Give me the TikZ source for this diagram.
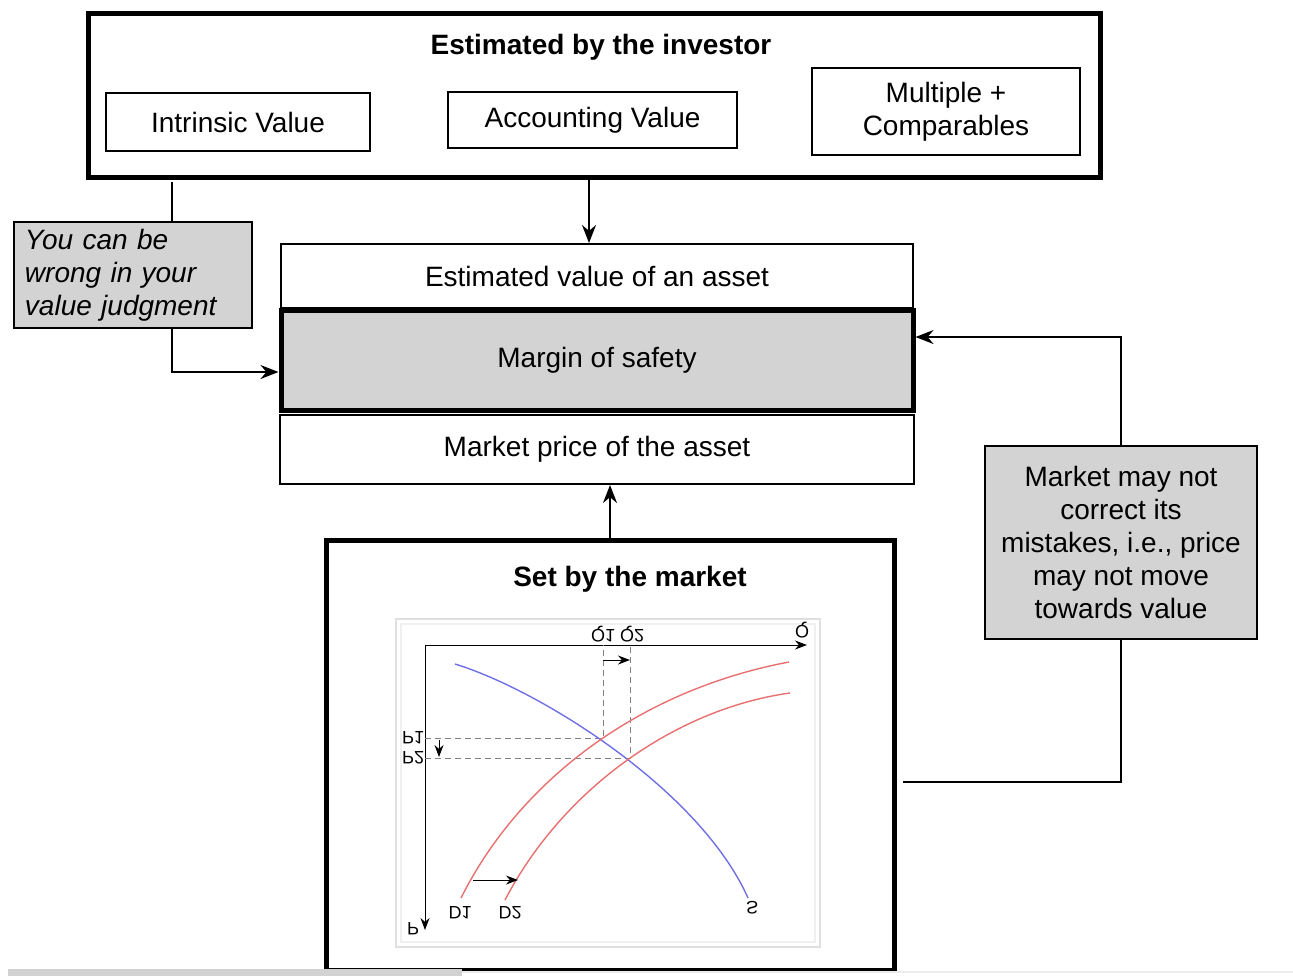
\documentclass[tikz,border=0pt]{standalone}
\usepackage{fontspec}
\setmainfont{Liberation Sans}
\usetikzlibrary{arrows.meta}
\definecolor{boxgray}{RGB}{211,211,211}
\definecolor{demandred}{RGB}{232,112,112}
\definecolor{supplyblue}{RGB}{112,112,228}

\begin{document}
\begin{tikzpicture}[
        x=0.5pt, y=-0.5pt,
        font=\fontsize{14}{16.5}\selectfont,
        frame/.style={rectangle, draw, line width=2.5pt, inner sep=0pt},
        block/.style={rectangle, draw, line width=1pt, align=center},
        note/.style={rectangle, draw, line width=1pt, fill=boxgray, align=center},
        title/.style={font=\fontsize{14}{16.5}\selectfont\bfseries},
        arrow/.style={-{Stealth[length=9pt,width=7pt]}, line width=0.9pt},
        link/.style={line width=0.9pt},
        smallarrow/.style={-{Stealth[length=6pt,width=4.5pt]}, line width=0.5pt},
        guide/.style={densely dashed, gray, line width=0.4pt},
        tag/.style={font=\fontsize{9}{10}\selectfont, yscale=-1, transform shape, inner sep=1pt}
    ]
        \useasboundingbox (0,0) rectangle (1293,976);

        \node[frame, minimum width=506pt, minimum height=82pt] (investor) at (594,95) {};
        \node[title] (investortitle) at (601,47) {Estimated by the investor};
        \node[block, minimum width=132pt, minimum height=29pt] (intrinsic) at (238,122) {Intrinsic Value};
        \node[block, minimum width=144.5pt, minimum height=28pt] (accounting) at (592.5,120) {Accounting Value};
        \node[block, minimum width=134pt, minimum height=43.5pt] (multiple) at (946,111.5) {Multiple +\\Comparables};

        \node[block, minimum width=316pt, minimum height=32pt] (estimated) at (597,276) {Estimated value of an asset};
        \node[frame, fill=boxgray, minimum width=316pt, minimum height=50pt] (margin) at (597,360) {Margin of safety};
        \node[block, minimum width=317pt, minimum height=34.5pt] (price) at (597,449.5) {Market price of the asset};

        \node[frame, minimum width=284pt, minimum height=215pt] (market) at (610,755) {};
        \node[title] (markettitle) at (630,579) {Set by the market};

        \node[note, align=left, text width=108pt, minimum width=119pt, minimum height=53pt,
              font=\fontsize{14}{16.5}\selectfont\itshape] (wrong) at (133,275) {You can be\\wrong in your\\value judgment};
        \node[note, minimum width=136pt, minimum height=96.5pt] (mistakes) at (1121,542.5)
              {Market may not\\correct its\\mistakes, i.e., price\\may not move\\towards value};
        \coordinate (feedback) at (903,782);

        \draw[arrow] ([xshift=-2.5pt]investor.south) -- ([xshift=-2.5pt]investor.south |- estimated.north);
        \draw[arrow] (market.north) -- (market.north |- price.south);
        \draw[link] ([xshift=19.5pt]wrong.north) -- ++(0,-39);
        \draw[arrow] ([xshift=19.5pt]wrong.south) |- ([yshift=-6pt]margin.west);
        \draw[arrow] (mistakes.north) |- ([yshift=11.5pt]margin.east);
        \draw[link] (mistakes.south) |- (feedback);

        \draw[gray!25, line width=1.2pt] (396,619) rectangle (820,947);
        \draw[gray!12, line width=1pt] (401,624) rectangle (815,942);
        \coordinate (origin) at (425,645);
        \draw[smallarrow] (origin) -- (807,645);
        \draw[smallarrow] (origin) -- (425,930);
        \draw[guide] (425,738) -| (603,645);
        \draw[guide] (425,758) -| (630,645);
        \draw[supplyblue, line width=0.7pt] (455,664) .. controls (540,690) and (700,790) .. (748,898);
        \draw[demandred, line width=0.7pt] (461,898) .. controls (520,780) and (640,690) .. (789,662);
        \draw[demandred, line width=0.7pt] (505,900) .. controls (565,785) and (680,708) .. (790,693);
        \draw[smallarrow] (603,660) -- (630,660);
        \draw[smallarrow] (439,740) -- (439,757);
        \draw[smallarrow] (473,880) -- (518,880);

        \node[tag] (qaxis) at (802,630) {Q};
        \node[tag] (paxis) at (413,929) {P};
        \node[tag] (qone) at (603,634) {Q1};
        \node[tag] (qtwo) at (632,634) {Q2};
        \node[tag] (pone) at (413,738) {P1};
        \node[tag] (ptwo) at (413,758) {P2};
        \node[tag] (done) at (460,913) {D1};
        \node[tag] (dtwo) at (510,913) {D2};
        \node[tag] (supply) at (752,908) {S};

        \fill[gray!35] (8,969) rectangle (462,976);
        \draw[gray!15, line width=1pt] (462,972) -- (1293,972);
    \end{tikzpicture}
\end{document}
